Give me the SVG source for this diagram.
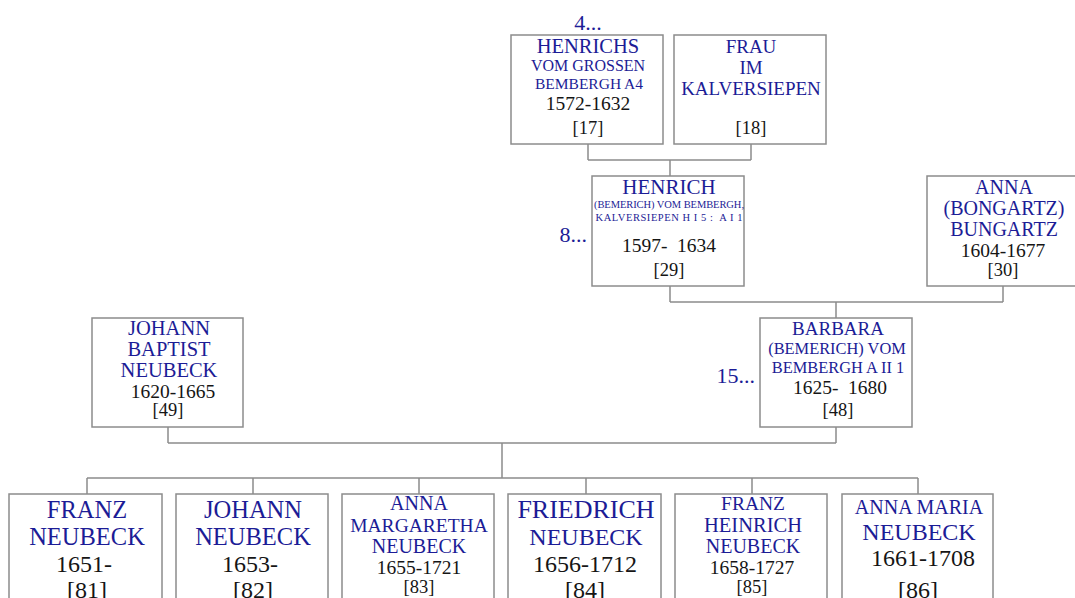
<svg xmlns="http://www.w3.org/2000/svg" width="1075" height="598" viewBox="0 0 1075 598">
<style>
.box{fill:#fff;stroke:#8c8c8c;stroke-width:1.5}
.con{fill:none;stroke:#8c8c8c;stroke-width:1.5}
text{font-family:"Liberation Serif","DejaVu Serif",serif;text-anchor:middle}
.n{fill:#1c1c96}
.d{fill:#151515}
.gen{fill:#1c1c96;font-size:22px}
</style>
<rect width="1075" height="598" fill="#fff"/>
<g id="connectors">
<path class="con" d="M588 144V160M751 144V160M588 160H751M670 160V176"/>
<path class="con" d="M670 286V302M1003 286V302M670 302H1003M836 302V318"/>
<path class="con" d="M168 427V443M836 427V443M168 443H836M502 443V478"/>
<path class="con" d="M87 478H918M87 478V494M253 478V494M419 478V494M586 478V494M752 478V494M918 478V494"/>
</g>
<text class="gen" x="588" y="30">4...</text>
<text class="gen" x="587" y="242" style="text-anchor:end">8...</text>
<text class="gen" x="755" y="383" style="text-anchor:end">15...</text>
<g id="p17">
<rect class="box" x="511" y="35" width="152" height="109"/>
<text class="n" x="588" y="53" font-size="20.5">HENRICHS</text>
<text class="n" x="588" y="71" font-size="16">VOM GROSSEN</text>
<text class="n" x="589" y="89" font-size="15.5">BEMBERGH A4</text>
<text class="d" x="588" y="110" font-size="19.5">1572-1632</text>
<text class="d" x="588" y="134" font-size="18.5">[17]</text>
</g>
<g id="p18">
<rect class="box" x="674" y="35" width="152" height="109"/>
<text class="n" x="751" y="53" font-size="19">FRAU</text>
<text class="n" x="751" y="74" font-size="19">IM</text>
<text class="n" x="751" y="95" font-size="19">KALVERSIEPEN</text>
<text class="d" x="751" y="134" font-size="18.5">[18]</text>
</g>
<g id="p29">
<rect class="box" x="592" y="176" width="152" height="110"/>
<text class="n" x="669" y="194" font-size="21">HENRICH</text>
<text class="n" x="669" y="208" font-size="10.5" textLength="150" lengthAdjust="spacing">(BEMERICH) VOM BEMBERGH,</text>
<text class="n" x="669" y="221" font-size="10.5" textLength="147" lengthAdjust="spacing" xml:space="preserve">KALVERSIEPEN H I 5 :  A I 1</text>
<text class="d" x="669" y="252" font-size="19.5" xml:space="preserve">1597-  1634</text>
<text class="d" x="669" y="276" font-size="18.5">[29]</text>
</g>
<g id="p30">
<rect class="box" x="927" y="176" width="152" height="110"/>
<text class="n" x="1004" y="194" font-size="20">ANNA</text>
<text class="n" x="1004" y="215" font-size="20">(BONGARTZ)</text>
<text class="n" x="1004" y="236" font-size="20">BUNGARTZ</text>
<text class="d" x="1003" y="257" font-size="19.5">1604-1677</text>
<text class="d" x="1003" y="276" font-size="18.5">[30]</text>
</g>
<g id="p48">
<rect class="box" x="760" y="318" width="152" height="109"/>
<text class="n" x="838" y="335" font-size="19">BARBARA</text>
<text class="n" x="837" y="354" font-size="16.4">(BEMERICH) VOM</text>
<text class="n" x="838" y="373" font-size="16.4">BEMBERGH A II 1</text>
<text class="d" x="840" y="394" font-size="19.5" xml:space="preserve">1625-  1680</text>
<text class="d" x="838" y="416" font-size="18.5">[48]</text>
</g>
<g id="p49">
<rect class="box" x="92" y="318" width="151" height="109"/>
<text class="n" x="169" y="335" font-size="20.5">JOHANN</text>
<text class="n" x="169" y="356" font-size="20.5">BAPTIST</text>
<text class="n" x="169" y="377" font-size="20.5">NEUBECK</text>
<text class="d" x="173" y="398" font-size="19.5">1620-1665</text>
<text class="d" x="168" y="416" font-size="18.5">[49]</text>
</g>
<g id="p81">
<rect class="box" x="9" y="494" width="153" height="110"/>
<text class="n" x="87" y="518" font-size="24.5">FRANZ</text>
<text class="n" x="87" y="545" font-size="24.5">NEUBECK</text>
<text class="d" x="84" y="572" font-size="24">1651-</text>
<text class="d" x="87" y="598" font-size="24">[81]</text>
</g>
<g id="p82">
<rect class="box" x="176" y="494" width="152" height="110"/>
<text class="n" x="253" y="518" font-size="24.5">JOHANN</text>
<text class="n" x="253" y="545" font-size="24.5">NEUBECK</text>
<text class="d" x="250" y="572" font-size="24">1653-</text>
<text class="d" x="253" y="598" font-size="24">[82]</text>
</g>
<g id="p83">
<rect class="box" x="342" y="494" width="152" height="110"/>
<text class="n" x="419" y="510" font-size="20">ANNA</text>
<text class="n" x="419" y="532" font-size="19.5">MARGARETHA</text>
<text class="n" x="419" y="553" font-size="20">NEUBECK</text>
<text class="d" x="419" y="574" font-size="19.5">1655-1721</text>
<text class="d" x="419" y="593" font-size="18.5">[83]</text>
</g>
<g id="p84">
<rect class="box" x="508" y="494" width="153" height="110"/>
<text class="n" x="586" y="518" font-size="26">FRIEDRICH</text>
<text class="n" x="586" y="545" font-size="24">NEUBECK</text>
<text class="d" x="585" y="572" font-size="24">1656-1712</text>
<text class="d" x="585" y="598" font-size="24">[84]</text>
</g>
<g id="p85">
<rect class="box" x="675" y="494" width="152" height="110"/>
<text class="n" x="753" y="510" font-size="19.5">FRANZ</text>
<text class="n" x="753" y="532" font-size="20.5">HEINRICH</text>
<text class="n" x="753" y="553" font-size="20">NEUBECK</text>
<text class="d" x="752" y="574" font-size="19.5">1658-1727</text>
<text class="d" x="752" y="593" font-size="18.5">[85]</text>
</g>
<g id="p86">
<rect class="box" x="842" y="494" width="151" height="110"/>
<text class="n" x="919" y="514" font-size="20">ANNA MARIA</text>
<text class="n" x="919" y="540" font-size="24">NEUBECK</text>
<text class="d" x="923" y="566" font-size="24">1661-1708</text>
<text class="d" x="918" y="598" font-size="24">[86]</text>
</g>
</svg>
